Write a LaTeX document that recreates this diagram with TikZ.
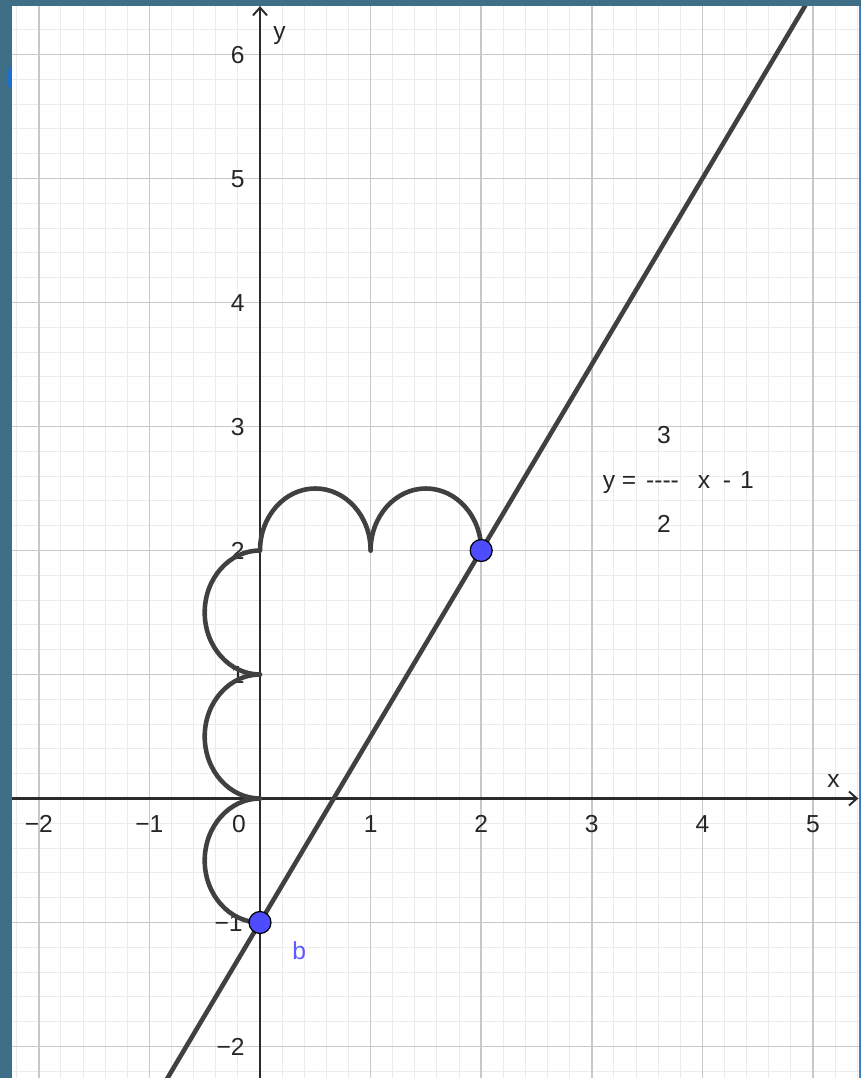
\documentclass[tikz,border=0pt]{standalone}
\usepackage{fontspec}
\setmainfont{Liberation Sans}
\usetikzlibrary{arrows.meta,calc}
\definecolor{bordc}{HTML}{3F6F86}
\definecolor{edgeblue}{HTML}{3D7FBF}
\definecolor{leftblue}{HTML}{1A6FD0}
\definecolor{ptblue}{HTML}{4D4DFF}
\definecolor{lblblue}{HTML}{5C5CFF}
\definecolor{graphc}{HTML}{404040}
\definecolor{axisc}{HTML}{2B2B2B}
\definecolor{majc}{HTML}{C8C8C8}
\definecolor{minc}{HTML}{EBEBEB}
\tikzset{
  minorgrid/.style={draw=minc, line width=0.55pt},
  majorgrid/.style={draw=majc, line width=0.9pt},
  axisline/.style={draw=axisc, line width=1.2pt, -{Straight Barb[length=4.5pt,width=8pt,line width=1.1pt]}},
  graphline/.style={draw=graphc, line width=2.6pt, line cap=round},
  ptnode/.style={circle, fill=ptblue, draw=black, line width=0.7pt, minimum size=0.44cm, inner sep=0pt},
  lbl/.style={font=\fontsize{14}{16}\selectfont, text=black!85, inner sep=0pt},
  xlbl/.style={lbl, anchor=base},
  ylbl/.style={lbl, anchor=base east},
}
\begin{document}
\begin{tikzpicture}[x=2.212cm, y=2.48cm]
\useasboundingbox (-2.3508,-2.254) rectangle (5.434,6.4395);
\fill[white] (-2.3508,-2.254) rectangle (5.434,6.4395);
\begin{scope}
\clip (-2.3508,-2.254) rectangle (5.434,6.4395);
\draw[minorgrid] (-3,-3) grid[xstep=0.2,ystep=0.2] (6,7);
\draw[majorgrid] (-3,-3) grid[xstep=1,ystep=1] (6,7);
% axes
\coordinate (xs) at (-2.3508,0);
\coordinate (xe) at (5.41,0);
\coordinate (ys) at (0,-2.254);
\coordinate (ye) at (0,6.39);
\draw[axisline] (xs) -- (xe);
\draw[axisline] (ys) -- (ye);
% tick labels
\node[xlbl] (tx-2) at (-2,-0.275) {−2};
\node[xlbl] (tx-1) at (-1,-0.275) {−1};
\node[xlbl] (tx0) at (-0.19,-0.275) {0};
\foreach \k in {1,2,3,4,5} \node[xlbl] (tx\k) at (\k,-0.275) {\k};
\foreach \k in {1,2,3,4,5,6} \node[ylbl] (ty\k) at (-0.136,\k-0.075) {\k};
\node[ylbl] (ty-1) at (-0.154,-1.075) {−1};
\node[ylbl] (ty-2) at (-0.136,-2.075) {−2};
\node[lbl, anchor=base west] (ylab) at (0.1175,6.117) {y};
\node[lbl, anchor=base west] (xlab) at (5.127,0.085) {x};
% key points
\coordinate (B) at (0,-1);
\coordinate (P) at (2,2);
\coordinate (c2) at (0,2);
\coordinate (c1) at (0,1);
\coordinate (c0) at (0,0);
\coordinate (m2) at (1,2);
% the line y = 3/2 x - 1
\draw[graphline] ($(B)!-0.45!(P)$) -- ($(B)!2.5!(P)$);
% arcs
\draw[graphline] (c2) arc[start angle=180, end angle=0, radius=0.5];
\draw[graphline] (m2) arc[start angle=180, end angle=0, radius=0.5];
\draw[graphline] (c2) arc[start angle=90, end angle=270, radius=0.5];
\draw[graphline] (c1) arc[start angle=90, end angle=270, radius=0.5];
\draw[graphline] (c0) arc[start angle=90, end angle=270, radius=0.5];
% points
\node[ptnode] (b) at (B) {};
\node[ptnode] (p2) at (P) {};
\node[lbl, text=lblblue, anchor=base west] (blab) at (0.289,-1.302) {b};
% equation
\node[lbl, anchor=base] (e3) at (3.6528,2.8589) {3};
\node[lbl, anchor=base] (ey) at (3.1555,2.496) {y};
\node[lbl, anchor=base] (eeq) at (3.3363,2.496) {=};
\node[lbl, anchor=base] (edash) at (3.6392,2.496) {-{}-{}-{}-};
\node[lbl, anchor=base] (ex) at (4.0145,2.496) {x};
\node[lbl, anchor=base] (emin) at (4.2224,2.496) {-};
\node[lbl, anchor=base] (e1) at (4.4033,2.496) {1};
\node[lbl, anchor=base] (e2) at (3.6528,2.1411) {2};
\end{scope}
% frame
\fill[bordc] (-2.3508,-2.254) rectangle (-2.2423,6.4395);
\fill[bordc] (-2.3508,6.3911) rectangle (5.434,6.4395);
\fill[edgeblue] (5.4159,-2.254) rectangle (5.434,6.3911);
\fill[leftblue] (-2.2423,5.8992) arc[start angle=90, end angle=270, x radius=0.0452, y radius=0.0887] -- cycle;
\end{tikzpicture}
\end{document}
